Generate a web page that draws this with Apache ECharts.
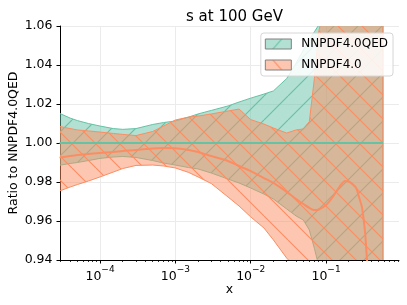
<!DOCTYPE html>
<html><head><meta charset="utf-8">
<script src="https://cdn.jsdelivr.net/npm/echarts@6/dist/echarts.min.js"></script>
<style>html,body{margin:0;padding:0;background:#fff}#c{width:407px;height:305px}</style>
</head><body><div id="c"></div>
<script>
// x grid (momentum fraction)
const xs     = [2.9e-5,4e-5,5e-5,7e-5,1e-4,1.5e-4,2e-4,3e-4,5e-4,7e-4,1e-3,1.5e-3,2e-3,3e-3,5e-3,7e-3,1e-2,1.5e-2,2e-2,3e-2,4e-2,5e-2,6e-2,7e-2,8e-2,0.1,0.12,0.15,0.18,0.2,0.22,0.25,0.28,0.3,0.33,0.35,0.4,0.5,0.57];
// NNPDF4.0QED band (ratio to its own central value)
const qedHi  = [1.0152,1.0128,1.0115,1.0100,1.0087,1.0074,1.0070,1.0074,1.0095,1.0105,1.0113,1.0133,1.0149,1.0167,1.0190,1.0210,1.0230,1.0251,1.0267,1.0330,1.0410,1.0477,1.0530,1.0570,1.0605,1.068,1.075,1.08,1.085,1.09,1.09,1.095,1.1,1.1,1.1,1.1,1.1,1.1,1.1];
const qedLo  = [0.9886,0.9895,0.9900,0.9910,0.9921,0.9928,0.9931,0.9926,0.9910,0.9897,0.9887,0.9874,0.9867,0.9846,0.9815,0.9795,0.9769,0.9738,0.9713,0.9662,0.9626,0.9605,0.9554,0.9460,0.9370,0.932,0.928,0.925,0.92,0.915,0.915,0.91,0.905,0.9,0.9,0.9,0.9,0.9,0.9];
const qedCentralX = [2.9e-5, 0.57];
const qedCentral  = [1.0, 1.0];
// NNPDF4.0 band and central value
const nnHi   = [1.0085,1.0074,1.0067,1.0062,1.0056,1.0049,1.0044,1.0038,1.0059,1.0087,1.0118,1.0133,1.0138,1.0149,1.0164,1.0174,1.0120,1.0097,1.0077,1.0051,1.0067,1.0072,1.0110,1.0330,1.0570,1.075,1.085,1.09,1.095,1.1,1.1,1.1,1.1,1.1,1.1,1.1,1.1,1.1,1.1];
const nnLo   = [0.9754,0.9774,0.9787,0.9805,0.9826,0.9851,0.9869,0.9885,0.9887,0.9882,0.9872,0.9849,0.9826,0.9792,0.9723,0.9677,0.9621,0.9564,0.9503,0.9410,0.9360,0.932,0.928,0.925,0.922,0.918,0.915,0.91,0.905,0.9,0.9,0.9,0.9,0.9,0.9,0.9,0.9,0.9,0.9];
const nnC    = [0.9925,0.9933,0.9938,0.9944,0.9949,0.9954,0.9959,0.9964,0.9972,0.9974,0.9973,0.9964,0.9954,0.9933,0.9908,0.9882,0.9856,0.9820,0.9795,0.9749,0.9713,0.9687,0.9667,0.9656,0.9659,0.9682,0.9718,0.9774,0.9805,0.9802,0.9792,0.9770,0.9710,0.9670,0.9540,0.9400,0.9150,0.88,0.86];
// axis ticks
const xMajorTicks = [1e-4,1e-3,1e-2,1e-1];
const yTicks = [0.94,0.96,0.98,1.00,1.02,1.04,1.06];

const TEAL = '#66c2a5', ORANGE = '#fc8d62';
const TEAL_FILL = 'rgba(102,194,165,0.5)', ORANGE_FILL = 'rgba(252,141,98,0.5)';

function hatch(fill, stroke, dir, P) {
  const c = document.createElement('canvas'); c.width = P; c.height = P;
  const g = c.getContext('2d');
  g.fillStyle = fill; g.fillRect(0, 0, P, P);
  g.strokeStyle = stroke; g.lineWidth = 1.1;
  g.beginPath();
  for (let k = -1; k <= 1; k++) {
    if (dir === '/') { g.moveTo(k * P, P); g.lineTo(k * P + P, 0); }
    else { g.moveTo(k * P, 0); g.lineTo(k * P + P, P); }
  }
  g.stroke();
  return c;
}
function legendTile(fill, stroke, dir) {
  const c = document.createElement('canvas'); c.width = 26; c.height = 10;
  const g = c.getContext('2d');
  g.fillStyle = fill; g.fillRect(0, 0, 26, 10);
  g.strokeStyle = stroke; g.lineWidth = 1.1;
  g.beginPath();
  if (dir === '/') { g.moveTo(7.5, 10); g.lineTo(16.5, 0); }
  else { g.moveTo(7.5, 0); g.lineTo(16.5, 10); }
  g.stroke();
  return c;
}
const P = 24;
const tealPat = { image: hatch(TEAL_FILL, TEAL, '/', P), repeat: 'repeat' };
const orangePat = { image: hatch(ORANGE_FILL, ORANGE, '\\', P), repeat: 'repeat' };
const tealLeg = { image: legendTile(TEAL_FILL, TEAL, '/'), repeat: 'repeat' };
const orangeLeg = { image: legendTile(ORANGE_FILL, ORANGE, '\\'), repeat: 'repeat' };

const minorTicks = [];
for (let e = -5; e <= -1; e++) for (let k = 2; k <= 9; k++) {
  const v = k * Math.pow(10, e);
  if (v > 2.94e-5 && v < 0.93) minorTicks.push(v);
}

const pair = (a) => xs.map((x, i) => [x, a[i]]);
const band = (lo, hi) => xs.map((x, i) => [x, lo[i], hi[i]]);
const FONT = 'DejaVu Sans';

function makeBand(name, lo, hi, fill, stroke) {
  const rows = band(lo, hi);
  return {
    name: name, type: 'custom', data: rows, encode: { x: 0, y: [1, 2] }, silent: true, clip: true,
    itemStyle: { color: stroke },
    renderItem: function (params, api) {
      if (params.dataIndex !== 0) return null;
      const pts = [];
      for (let i = 0; i < rows.length; i++) pts.push(api.coord([rows[i][0], rows[i][2]]));
      for (let i = rows.length - 1; i >= 0; i--) pts.push(api.coord([rows[i][0], rows[i][1]]));
      const cs = params.coordSys;
      return {
        type: 'polygon',
        shape: { points: pts },
        style: { fill: fill, stroke: stroke, lineWidth: 1 },
        clipPath: { type: 'rect', shape: { x: cs.x, y: cs.y, width: cs.width, height: cs.height } },
        silent: true
      };
    }
  };
}

const chart = echarts.init(document.getElementById('c'), null, { renderer: 'canvas' });
chart.setOption({
  animation: false,
  backgroundColor: '#fff',
  title: {
    text: 's at 100 GeV', left: 181, top: 5,
    textStyle: { fontFamily: FONT, fontSize: 15, fontWeight: 'normal', color: '#000' }
  },
  grid: { left: 60, right: 8, top: 26, bottom: 45, containLabel: false, outerBoundsMode: 'none' },
  legend: {
    data: [
      { name: 'NNPDF4.0QED', icon: 'rect', itemStyle: { color: tealLeg, borderColor: '#808080', borderWidth: 1 } },
      { name: 'NNPDF4.0', icon: 'rect', itemStyle: { color: orangeLeg, borderColor: '#808080', borderWidth: 1 } }
    ],
    orient: 'vertical', right: 14, top: 33,
    itemWidth: 26, itemHeight: 10, itemGap: 9,
    backgroundColor: 'rgba(255,255,255,0.85)', borderColor: '#d6d6d6', borderWidth: 1, borderRadius: 3,
    padding: [5, 5, 5, 4],
    textStyle: { fontFamily: FONT, fontSize: 12, color: '#000', padding: [0, 0, 0, 5] }
  },
  xAxis: [{
    type: 'log', logBase: 10, min: 2.94e-5, max: 0.93,
    name: 'x', nameLocation: 'middle', nameGap: 23, nameMoveOverlap: false,
    nameTextStyle: { fontFamily: FONT, fontSize: 12.5, color: '#000' },
    axisLine: { show: true, lineStyle: { color: '#000', width: 1 } },
    axisTick: { show: true, customValues: xMajorTicks, length: 3.5, lineStyle: { color: '#000', width: 1 } },
    axisLabel: {
      customValues: xMajorTicks, margin: 5,
      formatter: (v) => '{b|10}{s|\u2212' + Math.round(-Math.log10(v)) + '}',
      rich: {
        b: { fontFamily: FONT, fontSize: 12.5, color: '#000', lineHeight: 18, verticalAlign: 'bottom' },
        s: { fontFamily: FONT, fontSize: 9, color: '#000', lineHeight: 9, verticalAlign: 'top' }
      }
    },
    splitLine: { show: true, lineStyle: { color: '#ebebeb', width: 1 } }
  }, {
    type: 'log', logBase: 10, min: 2.94e-5, max: 0.93, position: 'bottom',
    axisLine: { show: false },
    axisTick: { show: true, customValues: minorTicks, length: 2, lineStyle: { color: '#000', width: 0.8 } },
    axisLabel: { show: false },
    splitLine: { show: false }
  }],
  yAxis: {
    type: 'value', min: 0.94, max: 1.06, interval: 0.02,
    name: 'Ratio to NNPDF4.0QED', nameLocation: 'middle', nameGap: 40, nameMoveOverlap: false,
    nameTextStyle: { fontFamily: FONT, fontSize: 12.5, color: '#000' },
    axisLine: { show: true, lineStyle: { color: '#000', width: 1 } },
    axisTick: { show: true, length: 3.5, lineStyle: { color: '#000', width: 1 } },
    axisLabel: { margin: 7.5, fontFamily: FONT, fontSize: 12.5, color: '#000', formatter: (v) => v.toFixed(2) },
    splitLine: { show: true, lineStyle: { color: '#ebebeb', width: 1 } }
  },
  series: [
    makeBand('NNPDF4.0QED', qedLo, qedHi, tealPat, TEAL),
    makeBand('NNPDF4.0', nnLo, nnHi, orangePat, ORANGE),
    { name: 'qedCentral', type: 'line', data: qedCentralX.map((x, i) => [x, qedCentral[i]]), symbol: 'none', silent: true,
      lineStyle: { color: TEAL, width: 2 } },
    { name: 'nnCentral', type: 'line', data: pair(nnC), symbol: 'none', silent: true, smooth: 0.3,
      lineStyle: { color: ORANGE, width: 2 } }
  ]
});
</script></body></html>
